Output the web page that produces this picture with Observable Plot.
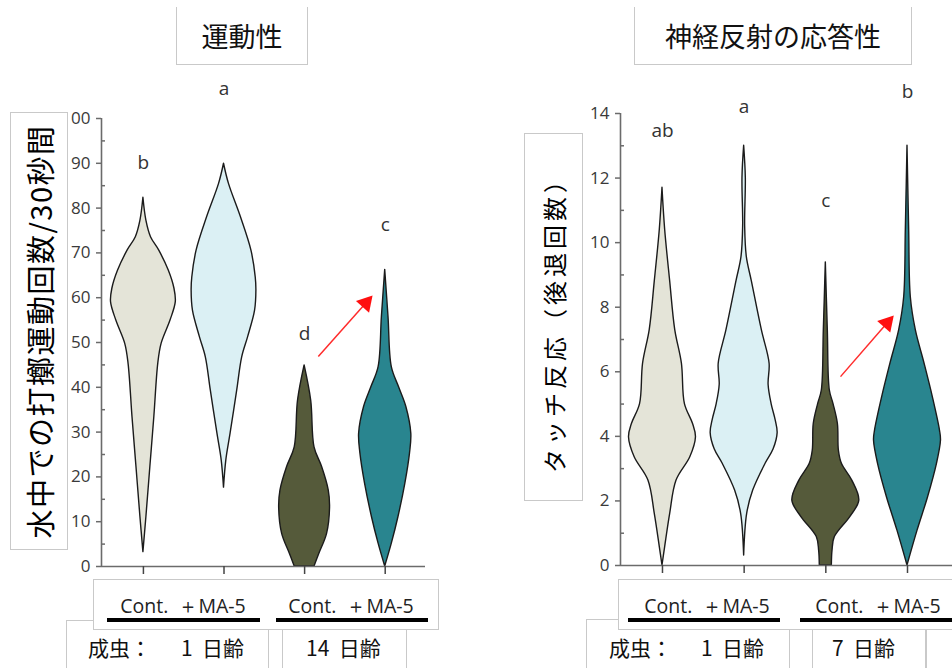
<!DOCTYPE html>
<html><head><meta charset="utf-8">
<script src="https://cdn.jsdelivr.net/npm/d3@7"></script>
<script src="https://cdn.jsdelivr.net/npm/@observablehq/plot@0.6"></script>
<style>
body{margin:0;width:952px;height:668px;overflow:hidden;position:relative;background:#fff;font-family:"Noto Sans CJK JP","Noto Sans",sans-serif;}
.abs{position:absolute;}
.box{position:absolute;border:1px solid #c9c9c9;box-sizing:border-box;}
.fill{background:#fff;}
.title{display:flex;align-items:center;justify-content:center;font-size:27px;color:#111;border-top:none;background:#fff;}
.ylab{display:flex;align-items:center;justify-content:center;background:#fff;}
.ylab span{transform:rotate(-90deg);white-space:nowrap;display:inline-block;color:#000;line-height:1;}
.t{position:absolute;line-height:1;white-space:pre;}
.grp{font-family:"Open Sans","Noto Sans",sans-serif;font-size:19.5px;color:#222;transform:translate(-50%,-50%);}
.age{font-size:21px;color:#111;transform:translateY(-50%);}
.bar{position:absolute;height:4px;background:#000;}
</style></head><body>
<div id="left" class="abs" style="left:0;top:0;width:450px"></div>
<div id="right" class="abs" style="left:500px;top:0;width:470px"></div>

<div class="box title" style="left:176px;top:7px;width:132px;height:58px">運動性</div>
<div class="box title" style="left:634px;top:7px;width:278px;height:58px">神経反射の応答性</div>

<div class="box ylab" style="left:10px;top:112px;width:58px;height:438px"><span style="font-size:29px;letter-spacing:1.5px">水中での打擲運動回数/30秒間</span></div>
<div class="box ylab" style="left:524px;top:133px;width:59px;height:368px"><span style="font-size:24px;letter-spacing:4px;position:relative;top:2px">タッチ反応（後退回数）</span></div>

<!-- lower boxes -->
<div class="box" style="left:66px;top:620px;width:217px;height:60px"></div>
<div class="box" style="left:268px;top:629px;width:139px;height:50px"></div>
<div class="box" style="left:586px;top:619px;width:227px;height:60px"></div>
<div class="box" style="left:789px;top:629px;width:137px;height:50px"></div>
<div class="box" style="left:926px;top:629px;width:60px;height:50px"></div>
<!-- upper boxes -->
<div class="box fill" style="left:93px;top:579px;width:346px;height:51px"></div>
<div class="box fill" style="left:618px;top:579px;width:400px;height:51px"></div>

<div id="labels"></div>

<script>
// ---------- data ----------
const positions = [1, 2, 3, 4];
const groupsL = ["Cont. 1日齢", "+MA-5 1日齢", "Cont. 14日齢", "+MA-5 14日齢"];
const groupsR = ["Cont. 1日齢", "+MA-5 1日齢", "Cont. 7日齢", "+MA-5 7日齢"];
const colors = ["#e4e4d8", "#dbf0f4", "#555a3a", "#29858f"];

const yTicksL = [0, 10, 20, 30, 40, 50, 60, 70, 80, 90, 100];
const yMinorL = [5, 15, 25, 35, 45, 55, 65, 75, 85, 95];
const yTicksR = [0, 2, 4, 6, 8, 10, 12, 14];
const yMinorR = [1, 3, 5, 7, 9, 11, 13];

// violin profiles: [value, relative density]
const violinL1 = [[82.3,0],[77.2,0.09],[73.5,0.23],[70.5,0.48],[66,0.77],[62,0.94],[59,0.98],[54.9,0.82],[49.7,0.55],[45.3,0.45],[33.3,0.33],[22.2,0.21],[11,0.09],[3.2,0]];
const violinL2 = [[89.9,0],[85.4,0.15],[78,0.51],[70.5,0.83],[64.5,0.96],[61.6,0.98],[57.1,0.94],[51.2,0.73],[46.7,0.55],[39.3,0.40],[29.7,0.2],[23.7,0.07],[17.6,0]];
const violinL3 = [[44.9,0],[37,0.2],[26.6,0.3],[22.2,0.53],[17,0.73],[13.2,0.77],[7.3,0.68],[2.9,0.45],[0,0.3]];
const violinL4 = [[66.2,0],[55.7,0.1],[44.5,0.2],[40,0.42],[35.6,0.64],[29.6,0.79],[25.2,0.75],[18.5,0.61],[11,0.4],[5.1,0.2],[0,0]];

const violinR1 = [[11.7,0],[10.4,0.08],[8.8,0.23],[7.3,0.38],[6.25,0.58],[5.0,0.67],[4.39,0.91],[3.97,1.0],[3.35,0.83],[2.63,0.42],[1.6,0.23],[0.57,0.08],[0,0]];
const violinR2 = [[13.0,0],[12.0,0.05],[10.5,0.03],[9.55,0.08],[8.8,0.23],[7.28,0.53],[6.25,0.76],[5.6,0.73],[5.0,0.82],[4.5,0.94],[4.1,1.0],[3.6,0.88],[3.15,0.64],[2.32,0.27],[1.6,0.09],[0.31,0]];
const violinR3 = [[9.39,0],[7.28,0.06],[5.42,0.12],[5.0,0.23],[4.39,0.36],[3.56,0.39],[3.15,0.48],[2.63,0.79],[2.01,1.0],[1.5,0.73],[0.88,0.27],[0.46,0.2],[0,0.18]];
const violinR4 = [[13.0,0],[10.4,0.05],[8.3,0.1],[7.28,0.25],[6.25,0.51],[5.2,0.76],[4.18,0.97],[3.87,1.0],[3.15,0.88],[2.1,0.61],[1.08,0.3],[0,0]];

const lettersL = ["b", "a", "d", "c"];
const letterYL = [90, 106.7, 52, 76.3];
const lettersR = ["ab", "a", "c", "b"];
const letterYR = [13.47, 14.2, 11.3, 14.68];

const arrowL = [{x1: 3.17, y1: 46.9, x2: 3.76, y2: 58.8}];
const arrowR = [{x1: 3.18, y1: 5.85, x2: 3.75, y2: 7.51}];

const treatLabel = "Cont.  ＋MA-5";

// ---------- chart ----------
const W = 0.41;
function rows(profiles, groups) {
  return profiles.flatMap((p, i) =>
    p.map(([v, d]) => ({group: groups[i], pos: positions[i], v, d})).sort((a, b) => b.v - a.v));
}
function panel(o) {
  const data = rows(o.profiles, o.groups);
  const axisColor = "#6b6b6b";
  return Plot.plot({
    width: o.width, height: 600,
    marginLeft: o.marginLeft, marginRight: o.marginRight, marginTop: o.marginTop, marginBottom: o.marginBottom,
    x: {domain: o.xDomain, axis: null},
    y: {domain: o.yDomain, axis: null},
    color: {domain: o.groups, range: colors},
    style: {fontFamily: "'Open Sans','Noto Sans',sans-serif", fontSize: "17px", background: "transparent", maxWidth: "none", overflow: "visible"},
    marks: [
      Plot.areaX(data, {y: "v", x1: d => d.pos - d.d * W, x2: d => d.pos + d.d * W, z: "group", fill: "group",
        stroke: "#1b1b1b", strokeWidth: 1.4, curve: "catmull-rom"}),
      Plot.ruleX([o.xDomain[0]], {stroke: axisColor, strokeWidth: 1.6}),
      Plot.ruleY([o.yDomain[0]], {stroke: axisColor, strokeWidth: 1.6}),
      Plot.axisY({ticks: o.yTicks, tickSize: 5, tickPadding: 6, label: null, stroke: axisColor, strokeWidth: 1.5, fill: "#3a3a3a"}),
      Plot.axisY({ticks: o.yMinor, tickSize: 4, dx: 4, tickFormat: () => "", label: null, stroke: axisColor, strokeWidth: 1.5}),
      Plot.axisX({ticks: positions, tickSize: 8, tickFormat: () => "", label: null, stroke: "#444", strokeWidth: 1.5}),
      Plot.text(o.letters, {x: (d, i) => positions[i], y: (d, i) => o.letterY[i], text: d => d, fontSize: 19, fill: "#333"}),
      Plot.link(o.arrow, {x1: "x1", y1: "y1", x2: "x2", y2: "y2", stroke: "#ff2b2b", strokeWidth: 1.5}),
      Plot.dot(o.arrow, {x: "x2", y: "y2", symbol: "triangle", r: 6.5, fill: "#ff1010", stroke: "none", rotate: 41.5})
    ]
  });
}

document.getElementById("left").append(panel({
  profiles: [violinL1, violinL2, violinL3, violinL4], groups: groupsL,
  width: 450, marginLeft: 101, marginRight: 25, marginTop: 118, marginBottom: 34,
  xDomain: [0.48, 4.5], yDomain: [0, 100], yTicks: yTicksL, yMinor: yMinorL,
  letters: lettersL, letterY: letterYL, arrow: arrowL
}));
document.getElementById("right").append(panel({
  profiles: [violinR1, violinR2, violinR3, violinR4], groups: groupsR,
  width: 470, marginLeft: 120, marginRight: 14, marginTop: 113, marginBottom: 35,
  xDomain: [0.486, 4.6], yDomain: [0, 14], yTicks: yTicksR, yMinor: yMinorR,
  letters: lettersR, letterY: letterYR, arrow: arrowR
}));

// ---------- bottom labels ----------
const lab = document.getElementById("labels");
function put(cls, text, left, top) {
  const e = document.createElement("div");
  e.className = "t " + cls; e.textContent = text;
  e.style.left = left + "px"; e.style.top = top + "px";
  lab.append(e);
}
function bar(left, width) {
  const e = document.createElement("div");
  e.className = "bar"; e.style.left = left + "px"; e.style.top = "618px"; e.style.width = width + "px";
  lab.append(e);
}
[183, 351, 707, 878].forEach(cx => put("grp", treatLabel, cx, 606));
[[107, 153], [276, 152], [628, 152], [800, 160]].forEach(([l, w]) => bar(l, w));
put("age", "成虫：", 88, 647); put("age", "1  日齢", 181, 647);
put("age", "14  日齢", 306, 647);
put("age", "成虫：", 609, 647); put("age", "1  日齢", 701, 647);
put("age", "7  日齢", 832, 647);
</script>
</body></html>
